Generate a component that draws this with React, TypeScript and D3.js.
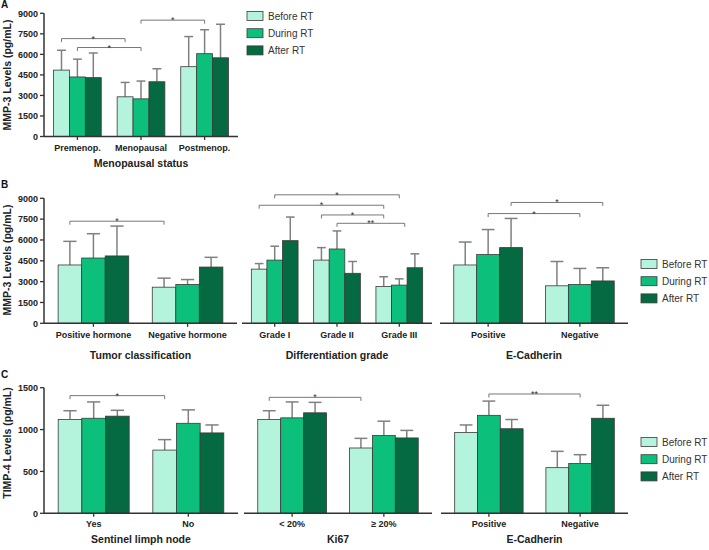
import React from 'react';
import * as d3 from 'd3';

const SERIES = ['Before RT', 'During RT', 'After RT'];
const COLORS = ['#b4f3dc', '#0cc07c', '#056a41'];

// Panel A — MMP-3 by menopausal status
const catA = ['Premenop.', 'Menopausal', 'Postmenop.'];
const meanA = [[4850, 4350, 4300], [2900, 2750, 4000], [5100, 6050, 5750]];
const errA = [[6300, 5650, 6100], [3950, 4050, 4950], [7300, 7800, 8200]];

// Panel B — MMP-3
const catB1 = ['Positive hormone', 'Negative hormone'];
const meanB1 = [[4200, 4700, 4850], [2600, 2800, 4050]];
const errB1 = [[5900, 6450, 7000], [3250, 3150, 4750]];
const catB2 = ['Grade I', 'Grade II', 'Grade III'];
const meanB2 = [[3900, 4550, 5950], [4550, 5350, 3600], [2650, 2750, 4000]];
const errB2 = [[4300, 5550, 7650], [5450, 6650, 4450], [3350, 3200, 5000]];
const catB3 = ['Positive', 'Negative'];
const meanB3 = [[4200, 4950, 5450], [2700, 2800, 3050]];
const errB3 = [[5850, 6750, 7550], [4450, 3950, 4000]];

// Panel C — TIMP-4
const catC1 = ['Yes', 'No'];
const meanC1 = [[1120, 1135, 1160], [755, 1075, 960]];
const errC1 = [[1225, 1330, 1230], [880, 1235, 1055]];
const catC2 = ['< 20%', '\u2265 20%'];
const meanC2 = [[1120, 1140, 1200], [780, 930, 900]];
const errC2 = [[1225, 1330, 1325], [895, 1100, 990]];
const catC3 = ['Positive', 'Negative'];
const meanC3 = [[965, 1170, 1010], [545, 595, 1135]];
const errC3 = [[1055, 1340, 1120], [740, 700, 1290]];

const ticksMMP = [0, 1500, 3000, 4500, 6000, 7500, 9000];
const ticksTIMP = [0, 500, 1000, 1500];

// significance brackets: [fromGroup, fromSeries, toGroup, toSeries, level, label]
type Sig = [number, number, number, number, number, string];
const sigA: Sig[] = [[0, 0, 1, 0, 7150, '*'], [0, 1, 1, 1, 6500, '*'], [1, 1, 2, 1, 8500, '*']];
const sigB1: Sig[] = [[0, 0, 1, 0, 7350, '*']];
const sigB2: Sig[] = [[0, 1, 2, 1, 9250, '*'], [0, 0, 2, 0, 8500, '*'], [1, 0, 2, 0, 7800, '*'], [1, 1, 2, 1.35, 7200, '**']];
const sigB3: Sig[] = [[0, 2, 1, 2, 8700, '*'], [0, 1, 1, 1, 7900, '*']];
const sigC1: Sig[] = [[0, 0, 1, 0, 1405, '*']];
const sigC2: Sig[] = [[0, 0, 1, 0, 1385, '*']];
const sigC3: Sig[] = [[0, 1, 1, 1, 1425, '**']];

const FONT = '"Liberation Sans", Arial, sans-serif';

type Sub = { x: [number, number]; cats: string[]; mean: number[][]; err: number[][]; sig: Sig[]; title: string };
type RowDef = {
  letter: string; letterY: number; yRange: [number, number]; max: number; ticks: number[];
  yLabel: string; yLabelY: number; legendX: number; legendY: number; catY: number; titleY: number; subs: Sub[];
};

const rows: RowDef[] = [
  {
    letter: 'A', letterY: 8, yRange: [136.5, 13.3], max: 9000, ticks: ticksMMP,
    yLabel: 'MMP-3 Levels (pg/mL)', yLabelY: 75, legendX: 247, legendY: 16, catY: 151, titleY: 167,
    subs: [{ x: [44, 238], cats: catA, mean: meanA, err: errA, sig: sigA, title: 'Menopausal status' }],
  },
  {
    letter: 'B', letterY: 188, yRange: [323.3, 198.3], max: 9000, ticks: ticksMMP,
    yLabel: 'MMP-3 Levels (pg/mL)', yLabelY: 260, legendX: 641, legendY: 264, catY: 338, titleY: 359,
    subs: [
      { x: [44, 237], cats: catB1, mean: meanB1, err: errB1, sig: sigB1, title: 'Tumor classification' },
      { x: [242, 432], cats: catB2, mean: meanB2, err: errB2, sig: sigB2, title: 'Differentiation grade' },
      { x: [440, 628], cats: catB3, mean: meanB3, err: errB3, sig: sigB3, title: 'E-Cadherin' },
    ],
  },
  {
    letter: 'C', letterY: 378, yRange: [513.3, 387.7], max: 1500, ticks: ticksTIMP,
    yLabel: 'TIMP-4 Levels (pg/mL)', yLabelY: 443, legendX: 641, legendY: 442, catY: 527, titleY: 543,
    subs: [
      { x: [44, 238], cats: catC1, mean: meanC1, err: errC1, sig: sigC1, title: 'Sentinel limph node' },
      { x: [244, 432], cats: catC2, mean: meanC2, err: errC2, sig: sigC2, title: 'Ki67' },
      { x: [441, 628], cats: catC3, mean: meanC3, err: errC3, sig: sigC3, title: 'E-Cadherin' },
    ],
  },
];

function Row({ r }: { r: RowDef }) {
  const y = d3.scaleLinear().domain([0, r.max]).range(r.yRange);
  const y0 = y(0);
  const axisX = r.subs[0].x[0];
  return (
    <g>
      <text x={1} y={r.letterY} fontFamily={FONT} fontWeight="bold" fontSize={10} fill="#111">{r.letter}</text>
      <text transform={`translate(10.5,${r.yLabelY}) rotate(-90)`} textAnchor="middle" fontFamily={FONT}
        fontWeight="bold" fontSize={10.5} fill="#222">{r.yLabel}</text>
      <line x1={axisX} x2={axisX} y1={y(r.max)} y2={y0} stroke="#333" strokeWidth={1.5} />
      {r.ticks.map((t) => (
        <g key={t}>
          <line x1={axisX - 4} x2={axisX} y1={y(t)} y2={y(t)} stroke="#333" strokeWidth={1.3} />
          <text x={axisX - 6} y={y(t) + 3.2} textAnchor="end" fontFamily={FONT} fontWeight="bold" fontSize={9} fill="#222">{t}</text>
        </g>
      ))}
      {r.subs.map((s, si) => {
        const xg = d3.scaleBand<string>().domain(s.cats).range(s.x).paddingInner(0.25).paddingOuter(0.15);
        const xs = d3.scaleBand<string>().domain(SERIES).range([0, xg.bandwidth()]);
        const bw = xs.bandwidth();
        const cap = bw * 0.28;
        const xAt = (g: number, k: number) => (xg(s.cats[g]) as number) + (k + 0.5) * xs.step();
        return (
          <g key={si}>
            {s.cats.map((c, gi) => (
              <g key={c}>
                {SERIES.map((ser, k) => {
                  const cx = (xg(c) as number) + (xs(ser) as number) + bw / 2;
                  return (
                    <g key={ser}>
                      <line x1={cx} x2={cx} y1={y(s.mean[gi][k])} y2={y(s.err[gi][k])} stroke="#808080" strokeWidth={1.5} />
                      <line x1={cx - cap} x2={cx + cap} y1={y(s.err[gi][k])} y2={y(s.err[gi][k])} stroke="#808080" strokeWidth={1.5} />
                      <rect x={(xg(c) as number) + (xs(ser) as number)} y={y(s.mean[gi][k])} width={bw}
                        height={y0 - y(s.mean[gi][k])} fill={COLORS[k]} stroke="#3a3a3a" strokeWidth={0.8} />
                    </g>
                  );
                })}
                <line x1={(xg(c) as number) + xg.bandwidth() / 2} x2={(xg(c) as number) + xg.bandwidth() / 2}
                  y1={y0} y2={y0 + 3.5} stroke="#333" strokeWidth={1.3} />
                <text x={(xg(c) as number) + xg.bandwidth() / 2} y={r.catY} textAnchor="middle" fontFamily={FONT}
                  fontWeight="bold" fontSize={9} fill="#222">{c}</text>
              </g>
            ))}
            <line x1={s.x[0]} x2={s.x[1]} y1={y0} y2={y0} stroke="#333" strokeWidth={1.5} />
            <text x={(s.x[0] + s.x[1]) / 2} y={r.titleY} textAnchor="middle" fontFamily={FONT} fontWeight="bold"
              fontSize={10.5} fill="#222">{s.title}</text>
            {s.sig.map((b, bi) => {
              const xa = xAt(b[0], b[1]);
              const xb = xAt(b[2], b[3]);
              const yy = y(b[4]);
              return (
                <g key={bi}>
                  <path d={`M${xa},${yy + 3.5}V${yy}H${xb}V${yy + 3.5}`} fill="none" stroke="#777" strokeWidth={1} />
                  <text x={(xa + xb) / 2} y={yy + 3} textAnchor="middle" fontFamily={FONT} fontSize={9} fill="#333">{b[5]}</text>
                </g>
              );
            })}
          </g>
        );
      })}
      {SERIES.map((ser, k) => (
        <g key={ser}>
          <rect x={r.legendX} y={r.legendY + k * 17.2 - 4.5} width={16} height={9} fill={COLORS[k]} stroke="#3a3a3a" strokeWidth={0.8} />
          <text x={r.legendX + 21} y={r.legendY + k * 17.2 + 3.6} fontFamily={FONT} fontSize={10} fill="#333">{ser}</text>
        </g>
      ))}
    </g>
  );
}

export default function App() {
  return (
    <svg width={709} height={550} style={{ position: 'absolute', left: 0, top: 0, background: '#fff' }}>
      <rect x={0} y={0} width={709} height={550} fill="#fff" />
      {rows.map((r) => <Row key={r.letter} r={r} />)}
    </svg>
  );
}
